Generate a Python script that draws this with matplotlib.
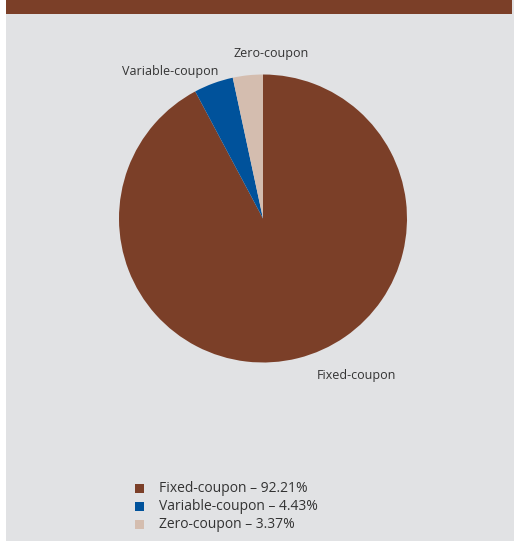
import matplotlib.pyplot as plt
from matplotlib.patches import Rectangle

categories = ["Fixed-coupon", "Variable-coupon", "Zero-coupon"]
shares = [92.21, 4.43, 3.37]
colors = ["#7B3F28", "#00529B", "#D4BDAF"]

W, H = 514, 541
fig = plt.figure(figsize=(W / 100, H / 100), dpi=100, facecolor="white")
plt.rcParams["font.family"] = ["Open Sans", "DejaVu Sans"]

# page background and header band
fig.patches.append(Rectangle((6 / W, 0), 1 - 6 / W, 1, transform=fig.transFigure,
                             facecolor="#E1E2E4", edgecolor="none", zorder=-2))
fig.patches.append(Rectangle((6 / W, 1 - 14 / H), (512 - 6) / W, 14 / H,
                             transform=fig.transFigure, facecolor="#7B3F28",
                             edgecolor="none", zorder=-1))

cx, cy, r = 263, H - 218.5, 144
ax = fig.add_axes([(cx - r) / W, (cy - r) / H, 2 * r / W, 2 * r / H])
ax.set_zorder(2)
ax.set_facecolor("none")
ax.pie(shares, colors=colors, startangle=90, counterclock=False,
       wedgeprops=dict(linewidth=0))
ax.set_xlim(-1, 1)
ax.set_ylim(-1, 1)
ax.set_aspect("equal")
ax.axis("off")

# slice labels
label_pos = {"Zero-coupon": (271, 53), "Variable-coupon": (170, 71),
             "Fixed-coupon": (356, 376)}
for name in categories:
    x, y = label_pos[name]
    fig.text(x / W, 1 - y / H, name, ha="center", va="center",
             fontsize=9, color="#333333")

# legend
for i, (name, val, c) in enumerate(zip(categories, shares, colors)):
    y = 488 + i * 18
    fig.patches.append(Rectangle(((139 - 4.5) / W, 1 - (y + 4.5) / H), 9 / W, 9 / H,
                                 transform=fig.transFigure, facecolor=c,
                                 edgecolor="none", zorder=1))
    fig.text(159 / W, 1 - y / H, f"{name} \u2013 {val:.2f}%", ha="left",
             va="center", fontsize=10, color="#333333")

fig.savefig("out.png", dpi=100, facecolor=fig.get_facecolor())
